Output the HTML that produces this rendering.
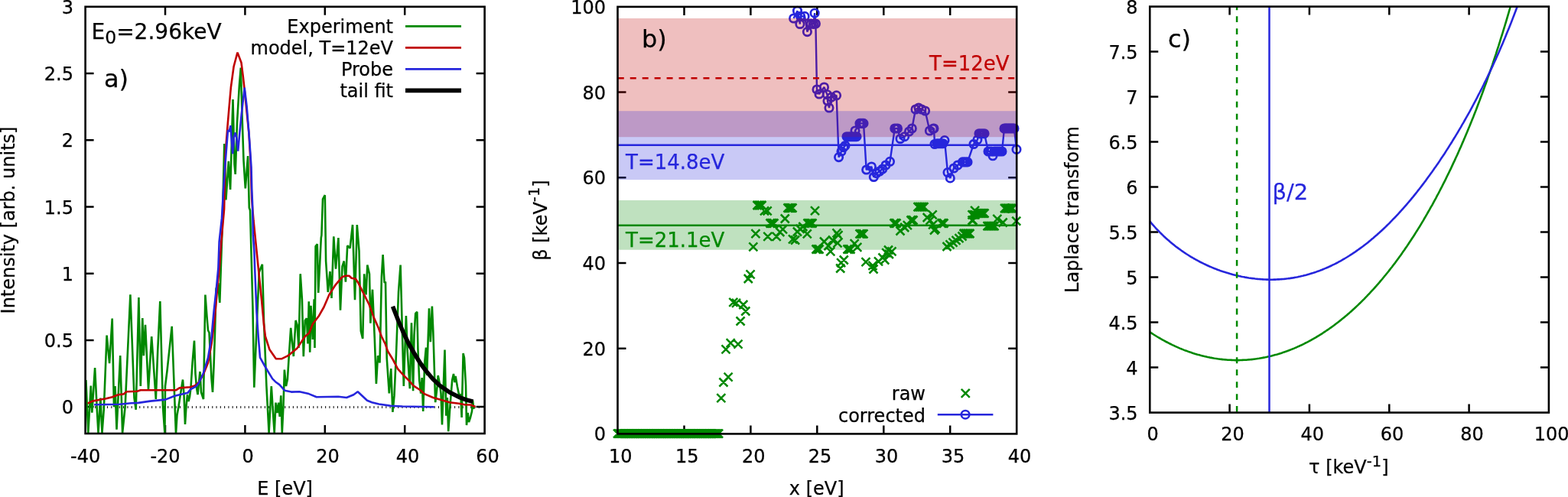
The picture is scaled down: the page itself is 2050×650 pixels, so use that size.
<!DOCTYPE html><html><head><meta charset="utf-8"><style>html,body{margin:0;padding:0;background:#fff;overflow:hidden}svg{display:block}</style></head><body><svg width="2050" height="650" viewBox="0 0 2050 650" font-family="'DejaVu Sans', 'Liberation Sans', sans-serif">
<rect width="2050" height="650" fill="#fff"/>
<defs><clipPath id="ca"><rect x="111.6" y="8.8" width="522.0" height="558.2"/></clipPath>
<clipPath id="cc"><rect x="1503.3" y="8.6" width="521.6" height="531.0"/></clipPath></defs>
<path d="M216.0,567.0L216.0,556.0 M216.0,8.8L216.0,19.8 M320.4,567.0L320.4,556.0 M320.4,8.8L320.4,19.8 M424.8,567.0L424.8,556.0 M424.8,8.8L424.8,19.8 M529.2,567.0L529.2,556.0 M529.2,8.8L529.2,19.8 M111.6,532.1L122.6,532.1 M633.6,532.1L622.6,532.1 M111.6,444.9L122.6,444.9 M633.6,444.9L622.6,444.9 M111.6,357.7L122.6,357.7 M633.6,357.7L622.6,357.7 M111.6,270.5L122.6,270.5 M633.6,270.5L622.6,270.5 M111.6,183.2L122.6,183.2 M633.6,183.2L622.6,183.2 M111.6,96.0L122.6,96.0 M633.6,96.0L622.6,96.0" stroke="#000" stroke-width="2.5" fill="none"/>
<line x1="113.55" y1="532.5" x2="630.6" y2="532.5" stroke="#222" stroke-width="2.8" stroke-dasharray="1.1,4.18" />
<g clip-path="url(#ca)">
<polyline points="112.4,497.0 115.3,566.0 118.8,504.5 120.3,539.6 124.1,481.0 126.5,530.0 128.5,566.0 131.4,520.6 133.5,566.0 135.8,535.0 139.6,438.6 143.1,475.2 146.7,416.6 149.0,532.3 150.5,505.0 152.5,561.6 157.2,465.0 160.1,566.0 163.6,532.3 170.4,385.3 175.5,520.4 177.7,535.8 181.4,389.0 183.8,505.0 186.3,416.0 187.8,465.2 190.0,424.7 194.0,509.7 198.2,440.0 203.8,522.0 206.2,459.0 209.3,394.0 213.0,532.7 215.4,566.0 216.0,505.0 218.5,485.0 224.7,426.8 230.0,567.0 231.5,543.0 233.6,531.0 235.4,519.0 239.0,496.5 240.5,516.0 242.0,555.0 243.5,531.0 245.0,516.0 246.5,525.0 248.0,519.0 249.5,507.0 251.6,474.0 254.0,445.5 255.5,489.0 257.0,507.0 258.5,516.0 260.0,501.0 261.5,486.0 263.0,513.0 266.0,522.0 267.2,453.0 268.4,385.5 270.5,414.0 272.0,432.0 273.5,435.0 275.0,465.0 276.5,495.0 278.0,513.0 279.5,480.0 281.0,435.0 282.5,378.0 285.2,370.0 287.3,396.0 288.6,356.0 290.5,300.0 293.3,188.0 295.4,261.5 298.8,210.8 301.1,248.0 304.5,130.0 306.5,215.0 307.7,228.0 310.0,160.0 312.9,111.5 314.8,88.5 316.5,150.0 318.5,210.0 320.8,246.3 324.1,204.0 325.8,271.7 327.0,275.0 330.4,400.0 332.3,506.8 335.5,430.0 338.8,356.0 341.5,349.0 342.9,345.8 345.0,420.0 348.4,505.0 351.6,566.0 354.8,505.0 357.0,540.0 358.7,566.0 360.5,526.6 362.5,540.0 364.2,526.6 365.7,545.0 367.3,517.4 368.8,566.0 370.5,530.0 371.9,483.6 374.0,505.0 375.9,496.0 377.5,470.0 380.2,428.8 383.8,466.0 386.6,419.0 388.5,425.0 390.5,455.0 392.7,358.2 394.9,391.4 396.8,466.2 398.8,419.0 401.0,416.3 402.4,449.5 403.8,394.2 405.2,460.6 406.5,399.7 408.8,444.0 410.7,391.4 411.5,455.0 412.6,322.0 414.8,319.4 416.2,383.0 418.2,344.3 419.8,311.0 420.4,307.7 422.0,260.3 424.8,255.2 426.1,341.5 428.8,382.0 431.5,355.0 433.5,390.0 436.3,309.4 439.0,351.7 442.4,311.0 445.0,405.8 447.5,348.3 449.8,341.5 451.9,368.6 454.2,321.2 457.6,324.6 461.0,294.0 464.0,392.3 466.8,294.0 469.5,328.0 471.8,433.0 474.2,443.0 476.2,358.4 478.6,385.5 480.3,346.6 483.0,358.4 484.4,422.7 487.0,378.7 489.8,443.0 491.9,502.0 494.0,465.2 496.5,474.4 498.9,361.8 500.6,333.0 502.6,370.0 504.0,368.6 505.7,468.3 508.8,514.3 511.2,482.0 513.4,538.9 515.5,517.4 518.0,462.0 521.0,382.0 523.6,346.6 527.8,505.0 530.9,413.0 532.7,459.0 535.8,508.2 538.0,422.2 540.1,511.2 541.5,438.5 543.2,410.0 545.3,407.8 546.4,456.0 548.2,497.0 550.2,514.5 551.7,494.0 553.2,538.0 555.2,473.6 557.0,454.6 558.1,491.0 561.0,403.4 562.8,447.3 564.9,400.5 566.3,432.6 569.2,526.2 571.6,505.7 572.7,491.0 574.5,500.0 576.5,514.5 578.0,555.4 581.5,457.5 583.3,543.7 584.8,520.0 586.2,564.2 588.5,530.0 591.2,497.0 593.0,489.0 594.4,500.0 595.6,492.0 598.0,506.0 600.0,516.0 602.4,516.0 603.6,546.0 605.6,462.0 607.0,468.0 609.0,504.0 610.0,556.0 611.6,540.0 613.0,552.0 615.0,546.0 617.0,538.0 618.0,524.0 619.5,535.0" fill="none" stroke="#008800" stroke-width="2.6" stroke-linejoin="bevel" stroke-linecap="butt" />
<polyline points="114.6,527.7 120.8,524.6 133.1,522.3 137.7,521.5 146.9,519.2 154.6,516.2 161.5,515.4 165.4,512.3 179.2,511.8 183.8,510.3 230.0,510.3 234.6,507.4 248.5,506.3 254.6,504.6 260.0,500.0 265.8,489.7 272.0,474.4 276.5,450.0 280.5,419.0 284.8,370.0 286.9,350.0 289.2,317.7 293.1,273.1 294.5,202.8 297.0,170.8 299.5,141.0 301.9,114.0 305.6,87.0 310.5,68.6 315.5,82.0 318.0,101.8 320.4,124.0 322.8,148.6 325.3,173.0 327.5,210.0 329.2,260.8 331.5,288.5 333.8,311.5 337.7,350.0 342.0,392.0 345.0,424.5 346.9,440.0 352.3,456.9 360.8,469.2 368.5,469.2 376.2,465.4 388.5,455.4 398.8,440.0 404.2,435.4 408.8,423.8 416.5,413.8 423.5,401.5 430.4,385.4 438.8,372.3 447.3,362.3 451.9,360.8 456.5,360.8 459.6,363.8 465.0,364.6 468.8,370.8 475.0,383.1 482.7,398.5 488.8,415.4 495.0,429.2 498.8,440.0 503.8,450.0 506.9,459.2 513.1,469.2 520.0,482.3 527.7,490.8 533.8,496.9 540.8,504.6 549.2,510.0 555.4,515.4 566.2,520.0 576.9,523.1 587.7,526.2 600.0,527.7 607.7,529.2 615.4,529.5 621.5,532.0" fill="none" stroke="#c00000" stroke-width="2.6" stroke-linejoin="bevel" stroke-linecap="butt" />
<polyline points="123.1,529.2 156.2,528.8 171.5,527.2 180.8,526.9 196.2,524.6 216.2,522.6 228.5,517.7 245.4,513.8 249.2,509.2 256.2,505.4 260.0,500.8 265.8,488.2 272.0,468.0 276.5,440.6 279.6,406.8 282.7,379.2 285.4,350.0 286.6,316.2 290.0,285.4 292.0,250.0 293.8,223.0 298.0,170.0 299.6,172.3 301.5,164.2 302.6,181.5 304.2,201.2 305.8,179.2 307.7,173.5 309.5,181.5 311.2,197.7 313.5,172.0 315.8,149.2 319.7,114.6 322.7,140.0 326.2,183.8 328.5,218.5 329.3,250.0 330.0,265.4 330.8,306.9 332.3,326.9 333.1,350.0 335.5,408.4 337.7,440.0 340.0,467.7 346.9,480.0 356.2,495.4 360.0,499.2 365.4,503.1 372.3,510.8 380.8,512.6 391.5,512.3 403.8,515.1 413.8,519.2 442.3,518.8 453.1,520.0 462.3,516.2 467.7,512.3 480.0,523.8 486.2,526.2 495.4,528.5 510.8,530.8 526.2,531.5 567.7,532.3" fill="none" stroke="#2626dc" stroke-width="2.6" stroke-linejoin="bevel" stroke-linecap="butt" />
<polyline points="513.5,400.8 521.0,420.0 528.0,436.5 533.8,448.5 541.5,462.0 549.2,474.5 556.9,485.0 566.2,496.0 575.4,504.5 587.7,513.0 600.0,519.3 610.8,523.3 618.5,525.3" fill="none" stroke="#000" stroke-width="5.6" stroke-linejoin="bevel" stroke-linecap="butt" />
</g>
<rect x="111.6" y="8.8" width="522.0" height="558.2" fill="none" stroke="#000" stroke-width="2.6"/>
<text x="111.6" y="605.3" font-size="24" text-anchor="middle" fill="#000" stroke="#000" stroke-width="0.25" >-40</text>
<text x="216.0" y="605.3" font-size="24" text-anchor="middle" fill="#000" stroke="#000" stroke-width="0.25" >-20</text>
<text x="324.2" y="605.3" font-size="24" text-anchor="middle" fill="#000" stroke="#000" stroke-width="0.25" >0</text>
<text x="428.6" y="605.3" font-size="24" text-anchor="middle" fill="#000" stroke="#000" stroke-width="0.25" >20</text>
<text x="533.0" y="605.3" font-size="24" text-anchor="middle" fill="#000" stroke="#000" stroke-width="0.25" >40</text>
<text x="637.4" y="605.3" font-size="24" text-anchor="middle" fill="#000" stroke="#000" stroke-width="0.25" >60</text>
<text x="96.0" y="541.2" font-size="24" text-anchor="end" fill="#000" stroke="#000" stroke-width="0.25" >0</text>
<text x="96.0" y="454.0" font-size="24" text-anchor="end" fill="#000" stroke="#000" stroke-width="0.25" >0.5</text>
<text x="96.0" y="366.8" font-size="24" text-anchor="end" fill="#000" stroke="#000" stroke-width="0.25" >1</text>
<text x="96.0" y="279.6" font-size="24" text-anchor="end" fill="#000" stroke="#000" stroke-width="0.25" >1.5</text>
<text x="96.0" y="192.3" font-size="24" text-anchor="end" fill="#000" stroke="#000" stroke-width="0.25" >2</text>
<text x="96.0" y="105.1" font-size="24" text-anchor="end" fill="#000" stroke="#000" stroke-width="0.25" >2.5</text>
<text x="96.0" y="17.9" font-size="24" text-anchor="end" fill="#000" stroke="#000" stroke-width="0.25" >3</text>
<text x="372.6" y="647.3" font-size="24" text-anchor="middle" fill="#000" stroke="#000" stroke-width="0.25" >E [eV]</text>
<text x="0.0" y="0.3" font-size="24" text-anchor="middle" fill="#000" stroke="#000" stroke-width="0.25" transform="translate(18.5,288) rotate(-90)">Intensity [arb. units]</text>
<text x="119.5" y="51.1" font-size="28" text-anchor="start" fill="#000" stroke="#000" stroke-width="0.25" >E<tspan font-size="23.5" dy="6.2">0</tspan><tspan dy="-6.2">=2.96keV</tspan></text>
<text x="136.0" y="114.2" font-size="32" text-anchor="start" fill="#000" stroke="#000" stroke-width="0.25" >a)</text>
<text x="514.0" y="43.3" font-size="24" text-anchor="end" fill="#000" stroke="#000" stroke-width="0.25" >Experiment</text>
<line x1="530" y1="34.4" x2="603" y2="34.4" stroke="#008800" stroke-width="2.6"/>
<text x="514.0" y="71.3" font-size="24" text-anchor="end" fill="#000" stroke="#000" stroke-width="0.25" >model, T=12eV</text>
<line x1="530" y1="62.4" x2="603" y2="62.4" stroke="#c00000" stroke-width="2.6"/>
<text x="514.0" y="99.3" font-size="24" text-anchor="end" fill="#000" stroke="#000" stroke-width="0.25" >Probe</text>
<line x1="530" y1="90.4" x2="603" y2="90.4" stroke="#2626dc" stroke-width="2.6"/>
<text x="514.0" y="127.3" font-size="24" text-anchor="end" fill="#000" stroke="#000" stroke-width="0.25" >tail fit</text>
<line x1="530" y1="118.4" x2="603" y2="118.4" stroke="#000" stroke-width="5.6"/>
<path d="M894.5,567.4L894.5,556.4 M894.5,8.9L894.5,19.9 M981.4,567.4L981.4,556.4 M981.4,8.9L981.4,19.9 M1068.3,567.4L1068.3,556.4 M1068.3,8.9L1068.3,19.9 M1155.3,567.4L1155.3,556.4 M1155.3,8.9L1155.3,19.9 M1242.2,567.4L1242.2,556.4 M1242.2,8.9L1242.2,19.9 M807.5,455.7L818.5,455.7 M1329.2,455.7L1318.2,455.7 M807.5,344.0L818.5,344.0 M1329.2,344.0L1318.2,344.0 M807.5,232.3L818.5,232.3 M1329.2,232.3L1318.2,232.3 M807.5,120.6L818.5,120.6 M1329.2,120.6L1318.2,120.6" stroke="#000" stroke-width="2.5" fill="none"/>
<path d="M802.0,561.7l11,11M802.0,572.7l11,-11 M803.7,561.7l11,11M803.7,572.7l11,-11 M805.5,561.7l11,11M805.5,572.7l11,-11 M807.2,561.7l11,11M807.2,572.7l11,-11 M809.0,561.7l11,11M809.0,572.7l11,-11 M810.7,561.7l11,11M810.7,572.7l11,-11 M812.4,561.7l11,11M812.4,572.7l11,-11 M814.2,561.7l11,11M814.2,572.7l11,-11 M815.9,561.7l11,11M815.9,572.7l11,-11 M817.6,561.7l11,11M817.6,572.7l11,-11 M819.4,561.7l11,11M819.4,572.7l11,-11 M821.1,561.7l11,11M821.1,572.7l11,-11 M822.9,561.7l11,11M822.9,572.7l11,-11 M824.6,561.7l11,11M824.6,572.7l11,-11 M826.3,561.7l11,11M826.3,572.7l11,-11 M828.1,561.7l11,11M828.1,572.7l11,-11 M829.8,561.7l11,11M829.8,572.7l11,-11 M831.5,561.7l11,11M831.5,572.7l11,-11 M833.3,561.7l11,11M833.3,572.7l11,-11 M835.0,561.7l11,11M835.0,572.7l11,-11 M836.8,561.7l11,11M836.8,572.7l11,-11 M838.5,561.7l11,11M838.5,572.7l11,-11 M840.2,561.7l11,11M840.2,572.7l11,-11 M842.0,561.7l11,11M842.0,572.7l11,-11 M843.7,561.7l11,11M843.7,572.7l11,-11 M845.5,561.7l11,11M845.5,572.7l11,-11 M847.2,561.7l11,11M847.2,572.7l11,-11 M848.9,561.7l11,11M848.9,572.7l11,-11 M850.7,561.7l11,11M850.7,572.7l11,-11 M852.4,561.7l11,11M852.4,572.7l11,-11 M854.1,561.7l11,11M854.1,572.7l11,-11 M855.9,561.7l11,11M855.9,572.7l11,-11 M857.6,561.7l11,11M857.6,572.7l11,-11 M859.4,561.7l11,11M859.4,572.7l11,-11 M861.1,561.7l11,11M861.1,572.7l11,-11 M862.8,561.7l11,11M862.8,572.7l11,-11 M864.6,561.7l11,11M864.6,572.7l11,-11 M866.3,561.7l11,11M866.3,572.7l11,-11 M868.0,561.7l11,11M868.0,572.7l11,-11 M869.8,561.7l11,11M869.8,572.7l11,-11 M871.5,561.7l11,11M871.5,572.7l11,-11 M873.3,561.7l11,11M873.3,572.7l11,-11 M875.0,561.7l11,11M875.0,572.7l11,-11 M876.7,561.7l11,11M876.7,572.7l11,-11 M878.5,561.7l11,11M878.5,572.7l11,-11 M880.2,561.7l11,11M880.2,572.7l11,-11 M882.0,561.7l11,11M882.0,572.7l11,-11 M883.7,561.7l11,11M883.7,572.7l11,-11 M885.4,561.7l11,11M885.4,572.7l11,-11 M887.2,561.7l11,11M887.2,572.7l11,-11 M888.9,561.7l11,11M888.9,572.7l11,-11 M890.6,561.7l11,11M890.6,572.7l11,-11 M892.4,561.7l11,11M892.4,572.7l11,-11 M894.1,561.7l11,11M894.1,572.7l11,-11 M895.9,561.7l11,11M895.9,572.7l11,-11 M897.6,561.7l11,11M897.6,572.7l11,-11 M899.3,561.7l11,11M899.3,572.7l11,-11 M901.1,561.7l11,11M901.1,572.7l11,-11 M902.8,561.7l11,11M902.8,572.7l11,-11 M904.6,561.7l11,11M904.6,572.7l11,-11 M906.3,561.7l11,11M906.3,572.7l11,-11 M908.0,561.7l11,11M908.0,572.7l11,-11 M909.8,561.7l11,11M909.8,572.7l11,-11 M911.5,561.7l11,11M911.5,572.7l11,-11 M913.2,561.7l11,11M913.2,572.7l11,-11 M915.0,561.7l11,11M915.0,572.7l11,-11 M916.7,561.7l11,11M916.7,572.7l11,-11 M918.5,561.7l11,11M918.5,572.7l11,-11 M920.2,561.7l11,11M920.2,572.7l11,-11 M921.9,561.7l11,11M921.9,572.7l11,-11 M923.7,561.7l11,11M923.7,572.7l11,-11 M925.4,561.7l11,11M925.4,572.7l11,-11 M927.1,561.7l11,11M927.1,572.7l11,-11 M928.9,561.7l11,11M928.9,572.7l11,-11 M930.6,561.7l11,11M930.6,572.7l11,-11 M932.4,561.7l11,11M932.4,572.7l11,-11 M934.1,561.7l11,11M934.1,572.7l11,-11 M937.3,515.1l11,11M937.3,526.1l11,-11 M940.4,494.5l11,11M940.4,505.5l11,-11 M943.5,451.4l11,11M943.5,462.4l11,-11 M946.6,487.7l11,11M946.6,498.7l11,-11 M949.7,443.1l11,11M949.7,454.1l11,-11 M953.3,389.9l11,11M953.3,400.9l11,-11 M957.0,390.8l11,11M957.0,401.8l11,-11 M959.5,444.7l11,11M959.5,455.7l11,-11 M962.6,414.5l11,11M962.6,425.5l11,-11 M966.3,393.0l11,11M966.3,404.0l11,-11 M969.3,401.5l11,11M969.3,412.5l11,-11 M972.8,359.0l11,11M972.8,370.0l11,-11 M975.6,353.4l11,11M975.6,364.4l11,-11 M979.3,317.4l11,11M979.3,328.4l11,-11 M982.4,300.2l11,11M982.4,311.2l11,-11 M984.5,263.0l11,11M984.5,274.0l11,-11 M986.5,263.0l11,11M986.5,274.0l11,-11 M988.5,263.0l11,11M988.5,274.0l11,-11 M990.5,263.0l11,11M990.5,274.0l11,-11 M994.0,270.3l11,11M994.0,281.3l11,-11 M997.7,270.3l11,11M997.7,281.3l11,-11 M998.3,303.9l11,11M998.3,314.9l11,-11 M1001.5,286.5l11,11M1001.5,297.5l11,-11 M1003.2,286.5l11,11M1003.2,297.5l11,-11 M1004.8,286.5l11,11M1004.8,297.5l11,-11 M1006.5,286.5l11,11M1006.5,297.5l11,-11 M1009.7,303.9l11,11M1009.7,314.9l11,-11 M1014.3,298.0l11,11M1014.3,309.0l11,-11 M1018.0,294.3l11,11M1018.0,305.3l11,-11 M1020.8,280.5l11,11M1020.8,291.5l11,-11 M1024.5,266.5l11,11M1024.5,277.5l11,-11 M1026.5,266.5l11,11M1026.5,277.5l11,-11 M1028.5,266.5l11,11M1028.5,277.5l11,-11 M1030.5,266.5l11,11M1030.5,277.5l11,-11 M1031.0,307.3l11,11M1031.0,318.3l11,-11 M1034.1,308.5l11,11M1034.1,319.5l11,-11 M1036.9,297.5l11,11M1036.9,308.5l11,-11 M1040.5,293.8l11,11M1040.5,304.8l11,-11 M1044.3,291.0l11,11M1044.3,302.0l11,-11 M1049.8,300.3l11,11M1049.8,311.3l11,-11 M1050.5,286.5l11,11M1050.5,297.5l11,-11 M1052.5,286.5l11,11M1052.5,297.5l11,-11 M1054.5,286.5l11,11M1054.5,297.5l11,-11 M1056.5,286.5l11,11M1056.5,297.5l11,-11 M1060.0,270.2l11,11M1060.0,281.2l11,-11 M1061.5,320.5l11,11M1061.5,331.5l11,-11 M1063.5,320.5l11,11M1063.5,331.5l11,-11 M1065.5,320.5l11,11M1065.5,331.5l11,-11 M1072.0,310.5l11,11M1072.0,321.5l11,-11 M1077.5,316.0l11,11M1077.5,327.0l11,-11 M1080.3,323.3l11,11M1080.3,334.3l11,-11 M1083.0,308.5l11,11M1083.0,319.5l11,-11 M1088.5,299.3l11,11M1088.5,310.3l11,-11 M1089.5,312.3l11,11M1089.5,323.3l11,-11 M1090.5,302.1l11,11M1090.5,313.1l11,-11 M1093.2,345.5l11,11M1093.2,356.5l11,-11 M1094.1,338.1l11,11M1094.1,349.1l11,-11 M1097.8,334.5l11,11M1097.8,345.5l11,-11 M1102.5,320.5l11,11M1102.5,331.5l11,-11 M1104.5,320.5l11,11M1104.5,331.5l11,-11 M1106.5,320.5l11,11M1106.5,331.5l11,-11 M1111.7,313.2l11,11M1111.7,324.2l11,-11 M1115.3,317.8l11,11M1115.3,328.8l11,-11 M1118.5,300.3l11,11M1118.5,311.3l11,-11 M1120.2,300.3l11,11M1120.2,311.3l11,-11 M1121.8,300.3l11,11M1121.8,311.3l11,-11 M1123.5,300.3l11,11M1123.5,311.3l11,-11 M1126.5,337.2l11,11M1126.5,348.2l11,-11 M1135.5,341.8l11,11M1135.5,352.8l11,-11 M1136.5,346.5l11,11M1136.5,357.5l11,-11 M1143.0,336.3l11,11M1143.0,347.3l11,-11 M1148.5,331.5l11,11M1148.5,342.5l11,-11 M1151.3,334.5l11,11M1151.3,345.5l11,-11 M1153.2,325.2l11,11M1153.2,336.2l11,-11 M1156.0,321.5l11,11M1156.0,332.5l11,-11 M1156.9,327.0l11,11M1156.9,338.0l11,-11 M1160.5,323.3l11,11M1160.5,334.3l11,-11 M1163.5,286.5l11,11M1163.5,297.5l11,-11 M1165.0,286.5l11,11M1165.0,297.5l11,-11 M1166.5,286.5l11,11M1166.5,297.5l11,-11 M1171.5,296.5l11,11M1171.5,307.5l11,-11 M1177.2,292.0l11,11M1177.2,303.0l11,-11 M1180.9,289.2l11,11M1180.9,300.2l11,-11 M1185.5,282.5l11,11M1185.5,293.5l11,-11 M1187.0,282.5l11,11M1187.0,293.5l11,-11 M1188.5,282.5l11,11M1188.5,293.5l11,-11 M1194.5,265.2l11,11M1194.5,276.2l11,-11 M1196.1,265.2l11,11M1196.1,276.2l11,-11 M1197.7,265.2l11,11M1197.7,276.2l11,-11 M1199.3,265.2l11,11M1199.3,276.2l11,-11 M1200.9,265.2l11,11M1200.9,276.2l11,-11 M1202.5,265.2l11,11M1202.5,276.2l11,-11 M1206.7,279.0l11,11M1206.7,290.0l11,-11 M1210.5,282.7l11,11M1210.5,293.7l11,-11 M1213.7,275.3l11,11M1213.7,286.3l11,-11 M1214.1,288.3l11,11M1214.1,299.3l11,-11 M1216.0,295.5l11,11M1216.0,306.5l11,-11 M1217.5,293.8l11,11M1217.5,304.8l11,-11 M1225.5,286.5l11,11M1225.5,297.5l11,-11 M1227.0,286.5l11,11M1227.0,297.5l11,-11 M1228.5,286.5l11,11M1228.5,297.5l11,-11 M1232.5,317.0l11,11M1232.5,328.0l11,-11 M1236.5,314.3l11,11M1236.5,325.3l11,-11 M1240.5,311.6l11,11M1240.5,322.6l11,-11 M1244.5,308.9l11,11M1244.5,319.9l11,-11 M1248.5,306.2l11,11M1248.5,317.2l11,-11 M1252.5,303.5l11,11M1252.5,314.5l11,-11 M1254.5,300.0l11,11M1254.5,311.0l11,-11 M1256.1,300.0l11,11M1256.1,311.0l11,-11 M1257.7,300.0l11,11M1257.7,311.0l11,-11 M1259.3,300.0l11,11M1259.3,311.0l11,-11 M1260.9,300.0l11,11M1260.9,311.0l11,-11 M1262.5,300.0l11,11M1262.5,311.0l11,-11 M1265.5,282.7l11,11M1265.5,293.7l11,-11 M1266.5,282.7l11,11M1266.5,293.7l11,-11 M1265.5,275.3l11,11M1265.5,286.3l11,-11 M1267.5,275.3l11,11M1267.5,286.3l11,-11 M1269.5,275.3l11,11M1269.5,286.3l11,-11 M1269.1,269.8l11,11M1269.1,280.8l11,-11 M1272.5,273.5l11,11M1272.5,284.5l11,-11 M1274.3,273.5l11,11M1274.3,284.5l11,-11 M1276.1,273.5l11,11M1276.1,284.5l11,-11 M1277.9,273.5l11,11M1277.9,284.5l11,-11 M1279.7,273.5l11,11M1279.7,284.5l11,-11 M1281.5,273.5l11,11M1281.5,284.5l11,-11 M1285.5,290.1l11,11M1285.5,301.1l11,-11 M1287.3,290.1l11,11M1287.3,301.1l11,-11 M1289.1,290.1l11,11M1289.1,301.1l11,-11 M1290.9,290.1l11,11M1290.9,301.1l11,-11 M1292.7,290.1l11,11M1292.7,301.1l11,-11 M1294.5,290.1l11,11M1294.5,301.1l11,-11 M1298.3,280.9l11,11M1298.3,291.9l11,-11 M1305.7,285.5l11,11M1305.7,296.5l11,-11 M1308.0,267.0l11,11M1308.0,278.0l11,-11 M1309.7,267.0l11,11M1309.7,278.0l11,-11 M1311.4,267.0l11,11M1311.4,278.0l11,-11 M1313.0,267.0l11,11M1313.0,278.0l11,-11 M1314.7,267.0l11,11M1314.7,278.0l11,-11 M1316.4,267.0l11,11M1316.4,278.0l11,-11 M1318.1,267.0l11,11M1318.1,278.0l11,-11 M1323.2,283.7l11,11M1323.2,294.7l11,-11" stroke="#008800" stroke-width="2.5" fill="none"/>
<polyline points="1037.6,24.0 1042.5,14.2 1045.9,31.5 1046.5,21.2 1052.1,21.4 1055.4,41.6 1060.2,31.1 1063.5,31.5 1065.1,17.2 1066.4,31.0 1068.0,117.0 1071.0,123.0 1077.5,114.0 1081.5,123.7 1082.0,132.0 1084.0,141.0 1087.0,127.0 1093.6,124.8 1096.6,205.6 1100.0,198.0 1103.0,192.7 1105.0,190.5 1107.0,178.7 1108.9,178.7 1110.7,178.7 1112.6,178.7 1114.4,178.7 1116.3,178.7 1118.1,178.7 1120.0,178.7 1118.0,171.0 1124.0,161.4 1125.7,161.4 1127.3,161.4 1129.0,161.4 1132.7,222.0 1139.4,218.0 1142.3,231.5 1146.0,226.7 1150.0,224.0 1153.8,221.0 1158.0,216.0 1163.5,211.3 1169.8,168.0 1171.7,168.0 1173.5,168.0 1177.0,181.5 1182.7,178.7 1188.5,172.0 1192.3,168.0 1197.0,143.0 1201.0,141.0 1205.0,143.0 1209.6,145.0 1215.4,171.0 1219.7,168.3 1221.0,168.0 1222.0,188.5 1225.0,187.7 1226.6,187.7 1228.2,187.7 1229.8,187.7 1231.4,187.7 1233.0,187.7 1235.0,183.6 1239.0,225.6 1242.3,232.9 1247.0,220.0 1252.0,216.0 1258.5,211.9 1260.1,211.9 1261.8,211.9 1263.4,211.9 1265.0,211.9 1273.0,188.5 1277.9,182.8 1280.0,174.7 1281.8,174.7 1283.5,174.7 1285.2,174.7 1287.0,174.7 1292.0,198.0 1294.0,198.0 1296.0,198.0 1298.0,203.8 1300.0,198.0 1301.7,198.0 1303.3,198.0 1305.0,198.0 1306.7,198.0 1308.3,198.0 1310.0,198.0 1313.0,168.0 1314.9,168.0 1316.7,168.0 1318.6,168.0 1320.4,168.0 1322.3,168.0 1324.1,168.0 1326.0,168.0 1329.0,195.4" fill="none" stroke="#2626dc" stroke-width="2.4" stroke-linejoin="bevel" stroke-linecap="butt" />
<path d="M1032.4,24.0a5.2,5.2 0 1,0 10.4,0a5.2,5.2 0 1,0 -10.4,0 M1037.3,14.2a5.2,5.2 0 1,0 10.4,0a5.2,5.2 0 1,0 -10.4,0 M1040.7,31.5a5.2,5.2 0 1,0 10.4,0a5.2,5.2 0 1,0 -10.4,0 M1041.3,21.2a5.2,5.2 0 1,0 10.4,0a5.2,5.2 0 1,0 -10.4,0 M1046.9,21.4a5.2,5.2 0 1,0 10.4,0a5.2,5.2 0 1,0 -10.4,0 M1050.2,41.6a5.2,5.2 0 1,0 10.4,0a5.2,5.2 0 1,0 -10.4,0 M1055.0,31.1a5.2,5.2 0 1,0 10.4,0a5.2,5.2 0 1,0 -10.4,0 M1058.3,31.5a5.2,5.2 0 1,0 10.4,0a5.2,5.2 0 1,0 -10.4,0 M1059.9,17.2a5.2,5.2 0 1,0 10.4,0a5.2,5.2 0 1,0 -10.4,0 M1061.2,31.0a5.2,5.2 0 1,0 10.4,0a5.2,5.2 0 1,0 -10.4,0 M1062.8,117.0a5.2,5.2 0 1,0 10.4,0a5.2,5.2 0 1,0 -10.4,0 M1065.8,123.0a5.2,5.2 0 1,0 10.4,0a5.2,5.2 0 1,0 -10.4,0 M1072.3,114.0a5.2,5.2 0 1,0 10.4,0a5.2,5.2 0 1,0 -10.4,0 M1076.3,123.7a5.2,5.2 0 1,0 10.4,0a5.2,5.2 0 1,0 -10.4,0 M1076.8,132.0a5.2,5.2 0 1,0 10.4,0a5.2,5.2 0 1,0 -10.4,0 M1078.8,141.0a5.2,5.2 0 1,0 10.4,0a5.2,5.2 0 1,0 -10.4,0 M1081.8,127.0a5.2,5.2 0 1,0 10.4,0a5.2,5.2 0 1,0 -10.4,0 M1088.4,124.8a5.2,5.2 0 1,0 10.4,0a5.2,5.2 0 1,0 -10.4,0 M1091.4,205.6a5.2,5.2 0 1,0 10.4,0a5.2,5.2 0 1,0 -10.4,0 M1094.8,198.0a5.2,5.2 0 1,0 10.4,0a5.2,5.2 0 1,0 -10.4,0 M1097.8,192.7a5.2,5.2 0 1,0 10.4,0a5.2,5.2 0 1,0 -10.4,0 M1099.8,190.5a5.2,5.2 0 1,0 10.4,0a5.2,5.2 0 1,0 -10.4,0 M1101.8,178.7a5.2,5.2 0 1,0 10.4,0a5.2,5.2 0 1,0 -10.4,0 M1103.7,178.7a5.2,5.2 0 1,0 10.4,0a5.2,5.2 0 1,0 -10.4,0 M1105.5,178.7a5.2,5.2 0 1,0 10.4,0a5.2,5.2 0 1,0 -10.4,0 M1107.4,178.7a5.2,5.2 0 1,0 10.4,0a5.2,5.2 0 1,0 -10.4,0 M1109.2,178.7a5.2,5.2 0 1,0 10.4,0a5.2,5.2 0 1,0 -10.4,0 M1111.1,178.7a5.2,5.2 0 1,0 10.4,0a5.2,5.2 0 1,0 -10.4,0 M1112.9,178.7a5.2,5.2 0 1,0 10.4,0a5.2,5.2 0 1,0 -10.4,0 M1114.8,178.7a5.2,5.2 0 1,0 10.4,0a5.2,5.2 0 1,0 -10.4,0 M1112.8,171.0a5.2,5.2 0 1,0 10.4,0a5.2,5.2 0 1,0 -10.4,0 M1118.8,161.4a5.2,5.2 0 1,0 10.4,0a5.2,5.2 0 1,0 -10.4,0 M1120.5,161.4a5.2,5.2 0 1,0 10.4,0a5.2,5.2 0 1,0 -10.4,0 M1122.1,161.4a5.2,5.2 0 1,0 10.4,0a5.2,5.2 0 1,0 -10.4,0 M1123.8,161.4a5.2,5.2 0 1,0 10.4,0a5.2,5.2 0 1,0 -10.4,0 M1127.5,222.0a5.2,5.2 0 1,0 10.4,0a5.2,5.2 0 1,0 -10.4,0 M1134.2,218.0a5.2,5.2 0 1,0 10.4,0a5.2,5.2 0 1,0 -10.4,0 M1137.1,231.5a5.2,5.2 0 1,0 10.4,0a5.2,5.2 0 1,0 -10.4,0 M1140.8,226.7a5.2,5.2 0 1,0 10.4,0a5.2,5.2 0 1,0 -10.4,0 M1144.8,224.0a5.2,5.2 0 1,0 10.4,0a5.2,5.2 0 1,0 -10.4,0 M1148.6,221.0a5.2,5.2 0 1,0 10.4,0a5.2,5.2 0 1,0 -10.4,0 M1152.8,216.0a5.2,5.2 0 1,0 10.4,0a5.2,5.2 0 1,0 -10.4,0 M1158.3,211.3a5.2,5.2 0 1,0 10.4,0a5.2,5.2 0 1,0 -10.4,0 M1164.6,168.0a5.2,5.2 0 1,0 10.4,0a5.2,5.2 0 1,0 -10.4,0 M1166.5,168.0a5.2,5.2 0 1,0 10.4,0a5.2,5.2 0 1,0 -10.4,0 M1168.3,168.0a5.2,5.2 0 1,0 10.4,0a5.2,5.2 0 1,0 -10.4,0 M1171.8,181.5a5.2,5.2 0 1,0 10.4,0a5.2,5.2 0 1,0 -10.4,0 M1177.5,178.7a5.2,5.2 0 1,0 10.4,0a5.2,5.2 0 1,0 -10.4,0 M1183.3,172.0a5.2,5.2 0 1,0 10.4,0a5.2,5.2 0 1,0 -10.4,0 M1187.1,168.0a5.2,5.2 0 1,0 10.4,0a5.2,5.2 0 1,0 -10.4,0 M1191.8,143.0a5.2,5.2 0 1,0 10.4,0a5.2,5.2 0 1,0 -10.4,0 M1195.8,141.0a5.2,5.2 0 1,0 10.4,0a5.2,5.2 0 1,0 -10.4,0 M1199.8,143.0a5.2,5.2 0 1,0 10.4,0a5.2,5.2 0 1,0 -10.4,0 M1204.4,145.0a5.2,5.2 0 1,0 10.4,0a5.2,5.2 0 1,0 -10.4,0 M1210.2,171.0a5.2,5.2 0 1,0 10.4,0a5.2,5.2 0 1,0 -10.4,0 M1214.5,168.3a5.2,5.2 0 1,0 10.4,0a5.2,5.2 0 1,0 -10.4,0 M1215.8,168.0a5.2,5.2 0 1,0 10.4,0a5.2,5.2 0 1,0 -10.4,0 M1216.8,188.5a5.2,5.2 0 1,0 10.4,0a5.2,5.2 0 1,0 -10.4,0 M1219.8,187.7a5.2,5.2 0 1,0 10.4,0a5.2,5.2 0 1,0 -10.4,0 M1221.4,187.7a5.2,5.2 0 1,0 10.4,0a5.2,5.2 0 1,0 -10.4,0 M1223.0,187.7a5.2,5.2 0 1,0 10.4,0a5.2,5.2 0 1,0 -10.4,0 M1224.6,187.7a5.2,5.2 0 1,0 10.4,0a5.2,5.2 0 1,0 -10.4,0 M1226.2,187.7a5.2,5.2 0 1,0 10.4,0a5.2,5.2 0 1,0 -10.4,0 M1227.8,187.7a5.2,5.2 0 1,0 10.4,0a5.2,5.2 0 1,0 -10.4,0 M1229.8,183.6a5.2,5.2 0 1,0 10.4,0a5.2,5.2 0 1,0 -10.4,0 M1233.8,225.6a5.2,5.2 0 1,0 10.4,0a5.2,5.2 0 1,0 -10.4,0 M1237.1,232.9a5.2,5.2 0 1,0 10.4,0a5.2,5.2 0 1,0 -10.4,0 M1241.8,220.0a5.2,5.2 0 1,0 10.4,0a5.2,5.2 0 1,0 -10.4,0 M1246.8,216.0a5.2,5.2 0 1,0 10.4,0a5.2,5.2 0 1,0 -10.4,0 M1253.3,211.9a5.2,5.2 0 1,0 10.4,0a5.2,5.2 0 1,0 -10.4,0 M1254.9,211.9a5.2,5.2 0 1,0 10.4,0a5.2,5.2 0 1,0 -10.4,0 M1256.5,211.9a5.2,5.2 0 1,0 10.4,0a5.2,5.2 0 1,0 -10.4,0 M1258.2,211.9a5.2,5.2 0 1,0 10.4,0a5.2,5.2 0 1,0 -10.4,0 M1259.8,211.9a5.2,5.2 0 1,0 10.4,0a5.2,5.2 0 1,0 -10.4,0 M1267.8,188.5a5.2,5.2 0 1,0 10.4,0a5.2,5.2 0 1,0 -10.4,0 M1272.7,182.8a5.2,5.2 0 1,0 10.4,0a5.2,5.2 0 1,0 -10.4,0 M1274.8,174.7a5.2,5.2 0 1,0 10.4,0a5.2,5.2 0 1,0 -10.4,0 M1276.5,174.7a5.2,5.2 0 1,0 10.4,0a5.2,5.2 0 1,0 -10.4,0 M1278.3,174.7a5.2,5.2 0 1,0 10.4,0a5.2,5.2 0 1,0 -10.4,0 M1280.0,174.7a5.2,5.2 0 1,0 10.4,0a5.2,5.2 0 1,0 -10.4,0 M1281.8,174.7a5.2,5.2 0 1,0 10.4,0a5.2,5.2 0 1,0 -10.4,0 M1286.8,198.0a5.2,5.2 0 1,0 10.4,0a5.2,5.2 0 1,0 -10.4,0 M1288.8,198.0a5.2,5.2 0 1,0 10.4,0a5.2,5.2 0 1,0 -10.4,0 M1290.8,198.0a5.2,5.2 0 1,0 10.4,0a5.2,5.2 0 1,0 -10.4,0 M1292.8,203.8a5.2,5.2 0 1,0 10.4,0a5.2,5.2 0 1,0 -10.4,0 M1294.8,198.0a5.2,5.2 0 1,0 10.4,0a5.2,5.2 0 1,0 -10.4,0 M1296.5,198.0a5.2,5.2 0 1,0 10.4,0a5.2,5.2 0 1,0 -10.4,0 M1298.1,198.0a5.2,5.2 0 1,0 10.4,0a5.2,5.2 0 1,0 -10.4,0 M1299.8,198.0a5.2,5.2 0 1,0 10.4,0a5.2,5.2 0 1,0 -10.4,0 M1301.5,198.0a5.2,5.2 0 1,0 10.4,0a5.2,5.2 0 1,0 -10.4,0 M1303.1,198.0a5.2,5.2 0 1,0 10.4,0a5.2,5.2 0 1,0 -10.4,0 M1304.8,198.0a5.2,5.2 0 1,0 10.4,0a5.2,5.2 0 1,0 -10.4,0 M1307.8,168.0a5.2,5.2 0 1,0 10.4,0a5.2,5.2 0 1,0 -10.4,0 M1309.7,168.0a5.2,5.2 0 1,0 10.4,0a5.2,5.2 0 1,0 -10.4,0 M1311.5,168.0a5.2,5.2 0 1,0 10.4,0a5.2,5.2 0 1,0 -10.4,0 M1313.4,168.0a5.2,5.2 0 1,0 10.4,0a5.2,5.2 0 1,0 -10.4,0 M1315.2,168.0a5.2,5.2 0 1,0 10.4,0a5.2,5.2 0 1,0 -10.4,0 M1317.1,168.0a5.2,5.2 0 1,0 10.4,0a5.2,5.2 0 1,0 -10.4,0 M1318.9,168.0a5.2,5.2 0 1,0 10.4,0a5.2,5.2 0 1,0 -10.4,0 M1320.8,168.0a5.2,5.2 0 1,0 10.4,0a5.2,5.2 0 1,0 -10.4,0 M1323.8,195.4a5.2,5.2 0 1,0 10.4,0a5.2,5.2 0 1,0 -10.4,0" stroke="#2626dc" stroke-width="2.7" fill="none"/>
<rect x="807.5" y="24.0" width="521.7" height="155.2" fill="#c00000" fill-opacity="0.25"/>
<line x1="807.5" y1="102.2" x2="1329.2" y2="102.2" stroke="#c00000" stroke-width="2.45" stroke-dasharray="8,7.95" stroke-dashoffset="-0.3"/>
<rect x="807.5" y="145.2" width="521.7" height="89.9" fill="#2626dc" fill-opacity="0.25"/>
<line x1="807.5" y1="189.8" x2="1329.2" y2="189.8" stroke="#2626dc" stroke-width="2.45" />
<rect x="807.5" y="261.9" width="521.7" height="64.8" fill="#008800" fill-opacity="0.25"/>
<line x1="807.5" y1="294.8" x2="1329.2" y2="294.8" stroke="#008800" stroke-width="2.45" />
<rect x="807.5" y="8.9" width="521.7" height="558.5" fill="none" stroke="#000" stroke-width="2.6"/>
<text x="811.3" y="605.3" font-size="24" text-anchor="middle" fill="#000" stroke="#000" stroke-width="0.25" >10</text>
<text x="898.2" y="605.3" font-size="24" text-anchor="middle" fill="#000" stroke="#000" stroke-width="0.25" >15</text>
<text x="985.2" y="605.3" font-size="24" text-anchor="middle" fill="#000" stroke="#000" stroke-width="0.25" >20</text>
<text x="1072.1" y="605.3" font-size="24" text-anchor="middle" fill="#000" stroke="#000" stroke-width="0.25" >25</text>
<text x="1159.1" y="605.3" font-size="24" text-anchor="middle" fill="#000" stroke="#000" stroke-width="0.25" >30</text>
<text x="1246.0" y="605.3" font-size="24" text-anchor="middle" fill="#000" stroke="#000" stroke-width="0.25" >35</text>
<text x="1333.0" y="605.3" font-size="24" text-anchor="middle" fill="#000" stroke="#000" stroke-width="0.25" >40</text>
<text x="792.0" y="576.4" font-size="24" text-anchor="end" fill="#000" stroke="#000" stroke-width="0.25" >0</text>
<text x="792.0" y="464.8" font-size="24" text-anchor="end" fill="#000" stroke="#000" stroke-width="0.25" >20</text>
<text x="792.0" y="353.1" font-size="24" text-anchor="end" fill="#000" stroke="#000" stroke-width="0.25" >40</text>
<text x="792.0" y="241.4" font-size="24" text-anchor="end" fill="#000" stroke="#000" stroke-width="0.25" >60</text>
<text x="792.0" y="129.7" font-size="24" text-anchor="end" fill="#000" stroke="#000" stroke-width="0.25" >80</text>
<text x="792.0" y="18.0" font-size="24" text-anchor="end" fill="#000" stroke="#000" stroke-width="0.25" >100</text>
<text x="1067.7" y="647.3" font-size="24" text-anchor="middle" fill="#000" stroke="#000" stroke-width="0.25" >x [eV]</text>
<text x="1210.0" y="523.4" font-size="24" text-anchor="end" fill="#000" stroke="#000" stroke-width="0.25" >raw</text>
<text x="1210.0" y="551.7" font-size="24" text-anchor="end" fill="#000" stroke="#000" stroke-width="0.25" >corrected</text>
<path d="M1256.8,508.8l11,11M1256.8,519.8l11,-11" stroke="#008800" stroke-width="2.5" fill="none"/>
<line x1="1225.8" y1="542.2" x2="1298.4" y2="542.2" stroke="#2626dc" stroke-width="2.4"/>
<circle cx="1262.1" cy="542.2" r="5.25" fill="none" stroke="#2626dc" stroke-width="2.6"/>
<text x="0.0" y="0.3" font-size="24" text-anchor="middle" fill="#000" stroke="#000" stroke-width="0.25" transform="translate(714.3,288) rotate(-90)">β [keV<tspan font-size="19.5" dy="-9.2">-1</tspan><tspan dy="9.2">]</tspan></text>
<text x="839.0" y="61.6" font-size="32" text-anchor="start" fill="#000" stroke="#000" stroke-width="0.25" >b)</text>
<text x="1215.0" y="92.2" font-size="26" text-anchor="start" fill="#c00000" stroke="#c00000" stroke-width="0.25" >T=12eV</text>
<text x="818.0" y="220.9" font-size="26" text-anchor="start" fill="#2626dc" stroke="#2626dc" stroke-width="0.25" >T=14.8eV</text>
<text x="818.0" y="322.5" font-size="26" text-anchor="start" fill="#008800" stroke="#008800" stroke-width="0.25" >T=21.1eV</text>
<path d="M1607.6,539.6L1607.6,528.6 M1607.6,8.6L1607.6,19.6 M1711.9,539.6L1711.9,528.6 M1711.9,8.6L1711.9,19.6 M1816.3,539.6L1816.3,528.6 M1816.3,8.6L1816.3,19.6 M1920.6,539.6L1920.6,528.6 M1920.6,8.6L1920.6,19.6 M1503.3,480.6L1514.3,480.6 M2024.9,480.6L2013.9,480.6 M1503.3,421.6L1514.3,421.6 M2024.9,421.6L2013.9,421.6 M1503.3,362.6L1514.3,362.6 M2024.9,362.6L2013.9,362.6 M1503.3,303.6L1514.3,303.6 M2024.9,303.6L2013.9,303.6 M1503.3,244.6L1514.3,244.6 M2024.9,244.6L2013.9,244.6 M1503.3,185.6L1514.3,185.6 M2024.9,185.6L2013.9,185.6 M1503.3,126.6L1514.3,126.6 M2024.9,126.6L2013.9,126.6 M1503.3,67.6L1514.3,67.6 M2024.9,67.6L2013.9,67.6" stroke="#000" stroke-width="2.5" fill="none"/>
<g clip-path="url(#cc)">
<polyline points="1503.3,434.3 1504.9,435.4 1506.6,436.4 1508.2,437.5 1509.9,438.5 1511.5,439.5 1513.1,440.5 1514.8,441.5 1516.4,442.4 1518.1,443.4 1519.7,444.3 1521.3,445.2 1523.0,446.1 1524.6,447.0 1526.3,447.8 1527.9,448.7 1529.5,449.5 1531.2,450.3 1532.8,451.1 1534.5,451.9 1536.1,452.7 1537.7,453.4 1539.4,454.1 1541.0,454.9 1542.7,455.6 1544.3,456.2 1545.9,456.9 1547.6,457.6 1549.2,458.2 1550.9,458.8 1552.5,459.4 1554.1,460.0 1555.8,460.6 1557.4,461.1 1559.1,461.7 1560.7,462.2 1562.3,462.7 1564.0,463.2 1565.6,463.7 1567.3,464.1 1568.9,464.6 1570.5,465.0 1572.2,465.4 1573.8,465.8 1575.5,466.2 1577.1,466.6 1578.7,467.0 1580.4,467.3 1582.0,467.6 1583.7,467.9 1585.3,468.2 1586.9,468.5 1588.6,468.8 1590.2,469.0 1591.8,469.3 1593.5,469.5 1595.1,469.7 1596.8,469.9 1598.4,470.1 1600.0,470.3 1601.7,470.4 1603.3,470.5 1605.0,470.7 1606.6,470.8 1608.2,470.8 1609.9,470.9 1611.5,471.0 1613.2,471.0 1614.8,471.1 1616.4,471.1 1618.1,471.1 1619.7,471.1 1621.4,471.0 1623.0,471.0 1624.6,470.9 1626.3,470.8 1627.9,470.8 1629.6,470.7 1631.2,470.5 1632.8,470.4 1634.5,470.3 1636.1,470.1 1637.8,469.9 1639.4,469.7 1641.0,469.5 1642.7,469.3 1644.3,469.0 1646.0,468.8 1647.6,468.5 1649.2,468.2 1650.9,467.9 1652.5,467.6 1654.2,467.3 1655.8,467.0 1657.4,466.6 1659.1,466.2 1660.7,465.8 1662.4,465.4 1664.0,465.0 1665.6,464.6 1667.3,464.1 1668.9,463.7 1670.6,463.2 1672.2,462.7 1673.8,462.2 1675.5,461.7 1677.1,461.1 1678.8,460.6 1680.4,460.0 1682.0,459.4 1683.7,458.8 1685.3,458.2 1687.0,457.6 1688.6,456.9 1690.2,456.3 1691.9,455.6 1693.5,454.9 1695.2,454.2 1696.8,453.4 1698.4,452.7 1700.1,451.9 1701.7,451.2 1703.4,450.4 1705.0,449.6 1706.6,448.7 1708.3,447.9 1709.9,447.1 1711.6,446.2 1713.2,445.3 1714.8,444.4 1716.5,443.5 1718.1,442.5 1719.8,441.6 1721.4,440.6 1723.0,439.6 1724.7,438.6 1726.3,437.6 1728.0,436.6 1729.6,435.5 1731.2,434.4 1732.9,433.3 1734.5,432.2 1736.2,431.1 1737.8,430.0 1739.4,428.8 1741.1,427.7 1742.7,426.5 1744.4,425.3 1746.0,424.0 1747.6,422.8 1749.3,421.5 1750.9,420.2 1752.6,418.9 1754.2,417.6 1755.8,416.3 1757.5,414.9 1759.1,413.6 1760.8,412.2 1762.4,410.8 1764.0,409.4 1765.7,407.9 1767.3,406.5 1768.9,405.0 1770.6,403.5 1772.2,402.0 1773.9,400.4 1775.5,398.9 1777.1,397.3 1778.8,395.7 1780.4,394.1 1782.1,392.4 1783.7,390.8 1785.3,389.1 1787.0,387.4 1788.6,385.7 1790.3,384.0 1791.9,382.2 1793.5,380.4 1795.2,378.6 1796.8,376.8 1798.5,375.0 1800.1,373.1 1801.7,371.3 1803.4,369.4 1805.0,367.4 1806.7,365.5 1808.3,363.5 1809.9,361.5 1811.6,359.5 1813.2,357.5 1814.9,355.5 1816.5,353.4 1818.1,351.3 1819.8,349.2 1821.4,347.0 1823.1,344.9 1824.7,342.7 1826.3,340.5 1828.0,338.2 1829.6,336.0 1831.3,333.7 1832.9,331.4 1834.5,329.0 1836.2,326.7 1837.8,324.3 1839.5,321.9 1841.1,319.5 1842.7,317.0 1844.4,314.5 1846.0,312.0 1847.7,309.5 1849.3,307.0 1850.9,304.4 1852.6,301.8 1854.2,299.1 1855.9,296.5 1857.5,293.8 1859.1,291.1 1860.8,288.3 1862.4,285.5 1864.1,282.7 1865.7,279.9 1867.3,277.0 1869.0,274.2 1870.6,271.2 1872.3,268.3 1873.9,265.3 1875.5,262.3 1877.2,259.3 1878.8,256.2 1880.5,253.1 1882.1,250.0 1883.7,246.8 1885.4,243.6 1887.0,240.4 1888.7,237.2 1890.3,233.9 1891.9,230.5 1893.6,227.2 1895.2,223.8 1896.9,220.4 1898.5,216.9 1900.1,213.4 1901.8,209.9 1903.4,206.3 1905.1,202.7 1906.7,199.1 1908.3,195.4 1910.0,191.7 1911.6,187.9 1913.3,184.1 1914.9,180.3 1916.5,176.4 1918.2,172.5 1919.8,168.6 1921.5,164.6 1923.1,160.6 1924.7,156.5 1926.4,152.4 1928.0,148.2 1929.7,144.0 1931.3,139.7 1932.9,135.5 1934.6,131.1 1936.2,126.7 1937.9,122.3 1939.5,117.8 1941.1,113.3 1942.8,108.7 1944.4,104.1 1946.0,99.4 1947.7,94.7 1949.3,89.9 1951.0,85.1 1952.6,80.2 1954.2,75.3 1955.9,70.3 1957.5,65.2 1959.2,60.1 1960.8,55.0 1962.4,49.7 1964.1,44.5 1965.7,39.1 1967.4,33.7 1969.0,28.3 1970.6,22.8 1972.3,17.2 1973.9,11.5 1975.6,5.8 1977.2,0.0 1978.8,-5.8 1980.5,-11.8 1982.1,-17.7 1983.8,-23.8 1985.4,-29.9 1987.0,-36.1 1988.7,-42.4 1990.3,-48.8 1992.0,-55.2 1993.6,-61.7" fill="none" stroke="#008800" stroke-width="2.6" stroke-linejoin="bevel" stroke-linecap="butt" />
<polyline points="1503.3,289.4 1504.9,291.4 1506.6,293.3 1508.2,295.1 1509.9,297.0 1511.5,298.8 1513.1,300.5 1514.8,302.2 1516.4,303.9 1518.1,305.5 1519.7,307.1 1521.3,308.7 1523.0,310.2 1524.6,311.7 1526.3,313.2 1527.9,314.6 1529.5,316.0 1531.2,317.4 1532.8,318.8 1534.5,320.1 1536.1,321.4 1537.7,322.7 1539.4,323.9 1541.0,325.1 1542.7,326.3 1544.3,327.5 1545.9,328.6 1547.6,329.8 1549.2,330.9 1550.9,332.0 1552.5,333.0 1554.1,334.0 1555.8,335.1 1557.4,336.1 1559.1,337.0 1560.7,338.0 1562.3,338.9 1564.0,339.8 1565.6,340.7 1567.3,341.6 1568.9,342.5 1570.5,343.3 1572.2,344.1 1573.8,344.9 1575.5,345.7 1577.1,346.5 1578.7,347.2 1580.4,348.0 1582.0,348.7 1583.7,349.4 1585.3,350.1 1586.9,350.8 1588.6,351.4 1590.2,352.0 1591.8,352.7 1593.5,353.3 1595.1,353.9 1596.8,354.5 1598.4,355.0 1600.0,355.6 1601.7,356.1 1603.3,356.6 1605.0,357.1 1606.6,357.6 1608.2,358.1 1609.9,358.5 1611.5,359.0 1613.2,359.4 1614.8,359.8 1616.4,360.2 1618.1,360.6 1619.7,361.0 1621.4,361.3 1623.0,361.7 1624.6,362.0 1626.3,362.3 1627.9,362.6 1629.6,362.9 1631.2,363.2 1632.8,363.5 1634.5,363.7 1636.1,363.9 1637.8,364.1 1639.4,364.3 1641.0,364.5 1642.7,364.7 1644.3,364.9 1646.0,365.0 1647.6,365.1 1649.2,365.3 1650.9,365.4 1652.5,365.5 1654.2,365.5 1655.8,365.6 1657.4,365.6 1659.1,365.7 1660.7,365.7 1662.4,365.7 1664.0,365.7 1665.6,365.6 1667.3,365.6 1668.9,365.5 1670.6,365.4 1672.2,365.4 1673.8,365.3 1675.5,365.1 1677.1,365.0 1678.8,364.9 1680.4,364.7 1682.0,364.5 1683.7,364.3 1685.3,364.1 1687.0,363.9 1688.6,363.6 1690.2,363.4 1691.9,363.1 1693.5,362.8 1695.2,362.5 1696.8,362.2 1698.4,361.8 1700.1,361.5 1701.7,361.1 1703.4,360.7 1705.0,360.3 1706.6,359.9 1708.3,359.5 1709.9,359.0 1711.6,358.6 1713.2,358.1 1714.8,357.6 1716.5,357.1 1718.1,356.5 1719.8,356.0 1721.4,355.4 1723.0,354.8 1724.7,354.2 1726.3,353.6 1728.0,353.0 1729.6,352.3 1731.2,351.6 1732.9,350.9 1734.5,350.2 1736.2,349.5 1737.8,348.8 1739.4,348.0 1741.1,347.2 1742.7,346.4 1744.4,345.6 1746.0,344.8 1747.6,344.0 1749.3,343.1 1750.9,342.2 1752.6,341.3 1754.2,340.4 1755.8,339.4 1757.5,338.5 1759.1,337.5 1760.8,336.5 1762.4,335.5 1764.0,334.5 1765.7,333.4 1767.3,332.4 1768.9,331.3 1770.6,330.2 1772.2,329.1 1773.9,327.9 1775.5,326.8 1777.1,325.6 1778.8,324.4 1780.4,323.2 1782.1,322.0 1783.7,320.7 1785.3,319.5 1787.0,318.2 1788.6,316.9 1790.3,315.5 1791.9,314.2 1793.5,312.8 1795.2,311.4 1796.8,310.0 1798.5,308.6 1800.1,307.2 1801.7,305.7 1803.4,304.3 1805.0,302.8 1806.7,301.2 1808.3,299.7 1809.9,298.2 1811.6,296.6 1813.2,295.0 1814.9,293.4 1816.5,291.8 1818.1,290.1 1819.8,288.4 1821.4,286.7 1823.1,285.0 1824.7,283.3 1826.3,281.6 1828.0,279.8 1829.6,278.0 1831.3,276.2 1832.9,274.4 1834.5,272.6 1836.2,270.7 1837.8,268.8 1839.5,266.9 1841.1,265.0 1842.7,263.1 1844.4,261.1 1846.0,259.1 1847.7,257.1 1849.3,255.1 1850.9,253.1 1852.6,251.0 1854.2,248.9 1855.9,246.8 1857.5,244.7 1859.1,242.6 1860.8,240.4 1862.4,238.2 1864.1,236.1 1865.7,233.8 1867.3,231.6 1869.0,229.3 1870.6,227.1 1872.3,224.8 1873.9,222.4 1875.5,220.1 1877.2,217.8 1878.8,215.4 1880.5,213.0 1882.1,210.6 1883.7,208.1 1885.4,205.6 1887.0,203.2 1888.7,200.7 1890.3,198.1 1891.9,195.6 1893.6,193.0 1895.2,190.4 1896.9,187.8 1898.5,185.2 1900.1,182.5 1901.8,179.8 1903.4,177.1 1905.1,174.4 1906.7,171.6 1908.3,168.9 1910.0,166.1 1911.6,163.2 1913.3,160.4 1914.9,157.5 1916.5,154.6 1918.2,151.7 1919.8,148.8 1921.5,145.8 1923.1,142.8 1924.7,139.8 1926.4,136.7 1928.0,133.6 1929.7,130.5 1931.3,127.4 1932.9,124.2 1934.6,121.0 1936.2,117.8 1937.9,114.5 1939.5,111.3 1941.1,107.9 1942.8,104.6 1944.4,101.2 1946.0,97.8 1947.7,94.4 1949.3,90.9 1951.0,87.4 1952.6,83.8 1954.2,80.2 1955.9,76.6 1957.5,72.9 1959.2,69.2 1960.8,65.5 1962.4,61.7 1964.1,57.9 1965.7,54.0 1967.4,50.1 1969.0,46.1 1970.6,42.1 1972.3,38.1 1973.9,34.0 1975.6,29.8 1977.2,25.6 1978.8,21.4 1980.5,17.1 1982.1,12.7 1983.8,8.3 1985.4,3.8 1987.0,-0.7 1988.7,-5.3 1990.3,-10.0 1992.0,-14.7 1993.6,-19.5" fill="none" stroke="#2626dc" stroke-width="2.6" stroke-linejoin="bevel" stroke-linecap="butt" />
</g>
<line x1="1617.1" y1="8.6" x2="1617.1" y2="539.6" stroke="#008800" stroke-width="2.5" stroke-dasharray="7.8,8.13" stroke-dashoffset="3.23"/>
<line x1="1659.5" y1="8.6" x2="1659.5" y2="539.6" stroke="#2626dc" stroke-width="2.5"/>
<rect x="1503.3" y="8.6" width="521.6" height="531.0" fill="none" stroke="#000" stroke-width="2.6"/>
<text x="1507.1" y="576.3" font-size="24" text-anchor="middle" fill="#000" stroke="#000" stroke-width="0.25" >0</text>
<text x="1611.4" y="576.3" font-size="24" text-anchor="middle" fill="#000" stroke="#000" stroke-width="0.25" >20</text>
<text x="1715.7" y="576.3" font-size="24" text-anchor="middle" fill="#000" stroke="#000" stroke-width="0.25" >40</text>
<text x="1820.1" y="576.3" font-size="24" text-anchor="middle" fill="#000" stroke="#000" stroke-width="0.25" >60</text>
<text x="1924.4" y="576.3" font-size="24" text-anchor="middle" fill="#000" stroke="#000" stroke-width="0.25" >80</text>
<text x="2028.7" y="576.3" font-size="24" text-anchor="middle" fill="#000" stroke="#000" stroke-width="0.25" >100</text>
<text x="1487.6" y="549.4" font-size="24" text-anchor="end" fill="#000" stroke="#000" stroke-width="0.25" >3.5</text>
<text x="1487.6" y="490.4" font-size="24" text-anchor="end" fill="#000" stroke="#000" stroke-width="0.25" >4</text>
<text x="1487.6" y="431.4" font-size="24" text-anchor="end" fill="#000" stroke="#000" stroke-width="0.25" >4.5</text>
<text x="1487.6" y="372.4" font-size="24" text-anchor="end" fill="#000" stroke="#000" stroke-width="0.25" >5</text>
<text x="1487.6" y="313.4" font-size="24" text-anchor="end" fill="#000" stroke="#000" stroke-width="0.25" >5.5</text>
<text x="1487.6" y="254.4" font-size="24" text-anchor="end" fill="#000" stroke="#000" stroke-width="0.25" >6</text>
<text x="1487.6" y="195.4" font-size="24" text-anchor="end" fill="#000" stroke="#000" stroke-width="0.25" >6.5</text>
<text x="1487.6" y="136.4" font-size="24" text-anchor="end" fill="#000" stroke="#000" stroke-width="0.25" >7</text>
<text x="1487.6" y="77.4" font-size="24" text-anchor="end" fill="#000" stroke="#000" stroke-width="0.25" >7.5</text>
<text x="1487.6" y="18.4" font-size="24" text-anchor="end" fill="#000" stroke="#000" stroke-width="0.25" >8</text>
<text x="1763.3" y="618.8" font-size="24" text-anchor="middle" fill="#000" stroke="#000" stroke-width="0.25" >τ [keV<tspan font-size="19.5" dy="-9.2">-1</tspan><tspan dy="9.2">]</tspan></text>
<text x="0.0" y="0.3" font-size="24" text-anchor="middle" fill="#000" stroke="#000" stroke-width="0.25" transform="translate(1410,274) rotate(-90)">Laplace transform</text>
<text x="1527.0" y="61.8" font-size="32" text-anchor="start" fill="#000" stroke="#000" stroke-width="0.25" >c)</text>
<text x="1663.5" y="261.3" font-size="29" text-anchor="start" fill="#2626dc" stroke="#2626dc" stroke-width="0.25" >β/2</text>
</svg></body></html>
